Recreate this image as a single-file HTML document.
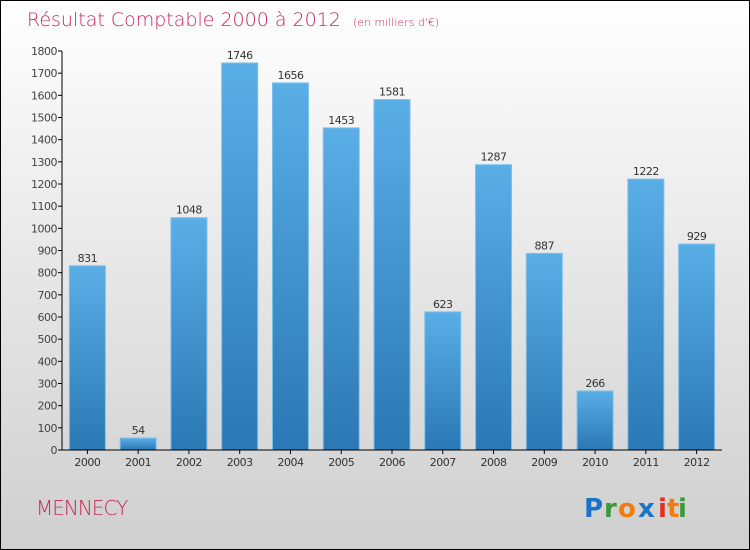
<!DOCTYPE html>
<html><head><meta charset="utf-8"><style>
body{margin:0}
#c{position:relative;width:748px;height:548px;border:1px solid #000;background:linear-gradient(#ffffff,#f0f0f0 30%,#cfcfcf);font-family:"DejaVu Sans","Liberation Sans",sans-serif;overflow:hidden}
</style></head><body>
<div id="c">
<svg width="748" height="548" id="s">
<defs><linearGradient id="g" x1="0" y1="0" x2="0" y2="1"><stop offset="0" stop-color="#5aaee6"/><stop offset="1" stop-color="#2a78b5"/></linearGradient></defs>
<text x="26" y="25" font-size="19" fill="#c8285a" font-family="DejaVu Sans" font-weight="200">Résultat Comptable 2000 à 2012 <tspan font-size="11" dx="6">(en milliers d'€)</tspan></text>
<text x="35" y="514" font-size="20" fill="#c8285a" font-weight="200" letter-spacing="-1">MENNECY</text>
<g font-size="26" font-weight="bold" font-family="DejaVu Sans">
<text x="583" y="516" fill="#1a73c8">P</text><text x="603" y="516" fill="#3a9a3a">r</text><text x="617" y="516" fill="#f07d10">o</text><text x="637" y="516" fill="#1a73c8">x</text><text x="657" y="516" fill="#e03020">i</text><text x="666" y="516" fill="#f07d10">t</text><text x="677" y="516" fill="#3a9a3a">i</text>
</g>
<g id="plot"></g>
</svg></div>
<script>
const categories=["2000","2001","2002","2003","2004","2005","2006","2007","2008","2009","2010","2011","2012"];
const values=[831,54,1048,1746,1656,1453,1581,623,1287,887,266,1222,929];
const ticks=[0,100,200,300,400,500,600,700,800,900,1000,1100,1200,1300,1400,1500,1600,1700,1800];
const NS="http://www.w3.org/2000/svg",p=document.getElementById('plot');
const x0=61,x1=721,y0=449,y1=50,max=1800,bw=(x1-x0)/categories.length;
const y=v=>y0-(v/max)*(y0-y1);
function el(t,a,txt){const e=document.createElementNS(NS,t);for(const k in a)e.setAttribute(k,a[k]);if(txt!=null)e.textContent=txt;p.appendChild(e);return e;}
ticks.forEach(t=>{
 const l=el('line',{x1:x0-4,x2:x0,y1:y(t),y2:y(t),stroke:'#000'});
 
 
 const tx=el('text',{x:x0-5,y:y(t)+4,'font-size':11,'text-anchor':'end',fill:'#444','letter-spacing':'-0.5'},t);
 
 
});
categories.forEach((c,i)=>{
 const cx=x0+bw*(i+0.5),v=values[i];
 const r=el('rect',{x:cx-18,y:y(v),width:36,height:y0-y(v),fill:'url(#g)',stroke:'#7cc0ee','stroke-width':1});
 
 
 const lv=el('text',{x:cx,y:y(v)-4,'font-size':11,'text-anchor':'middle',fill:'#333','letter-spacing':'-0.5'},v);
 
 
 const tk=el('line',{x1:cx,x2:cx,y1:y0,y2:y0+4,stroke:'#000'});
 
 
 const lx=el('text',{x:cx,y:y0+16,'font-size':11,'text-anchor':'middle',fill:'#333','letter-spacing':'-0.5'},c);
 
 
});
const ya=el('line',{x1:x0,x2:x0,y1:y1,y2:y0,stroke:'#000'});


const xa=el('line',{x1:x0,x2:x1,y1:y0,y2:y0,stroke:'#000'});


</script>
</body></html>
